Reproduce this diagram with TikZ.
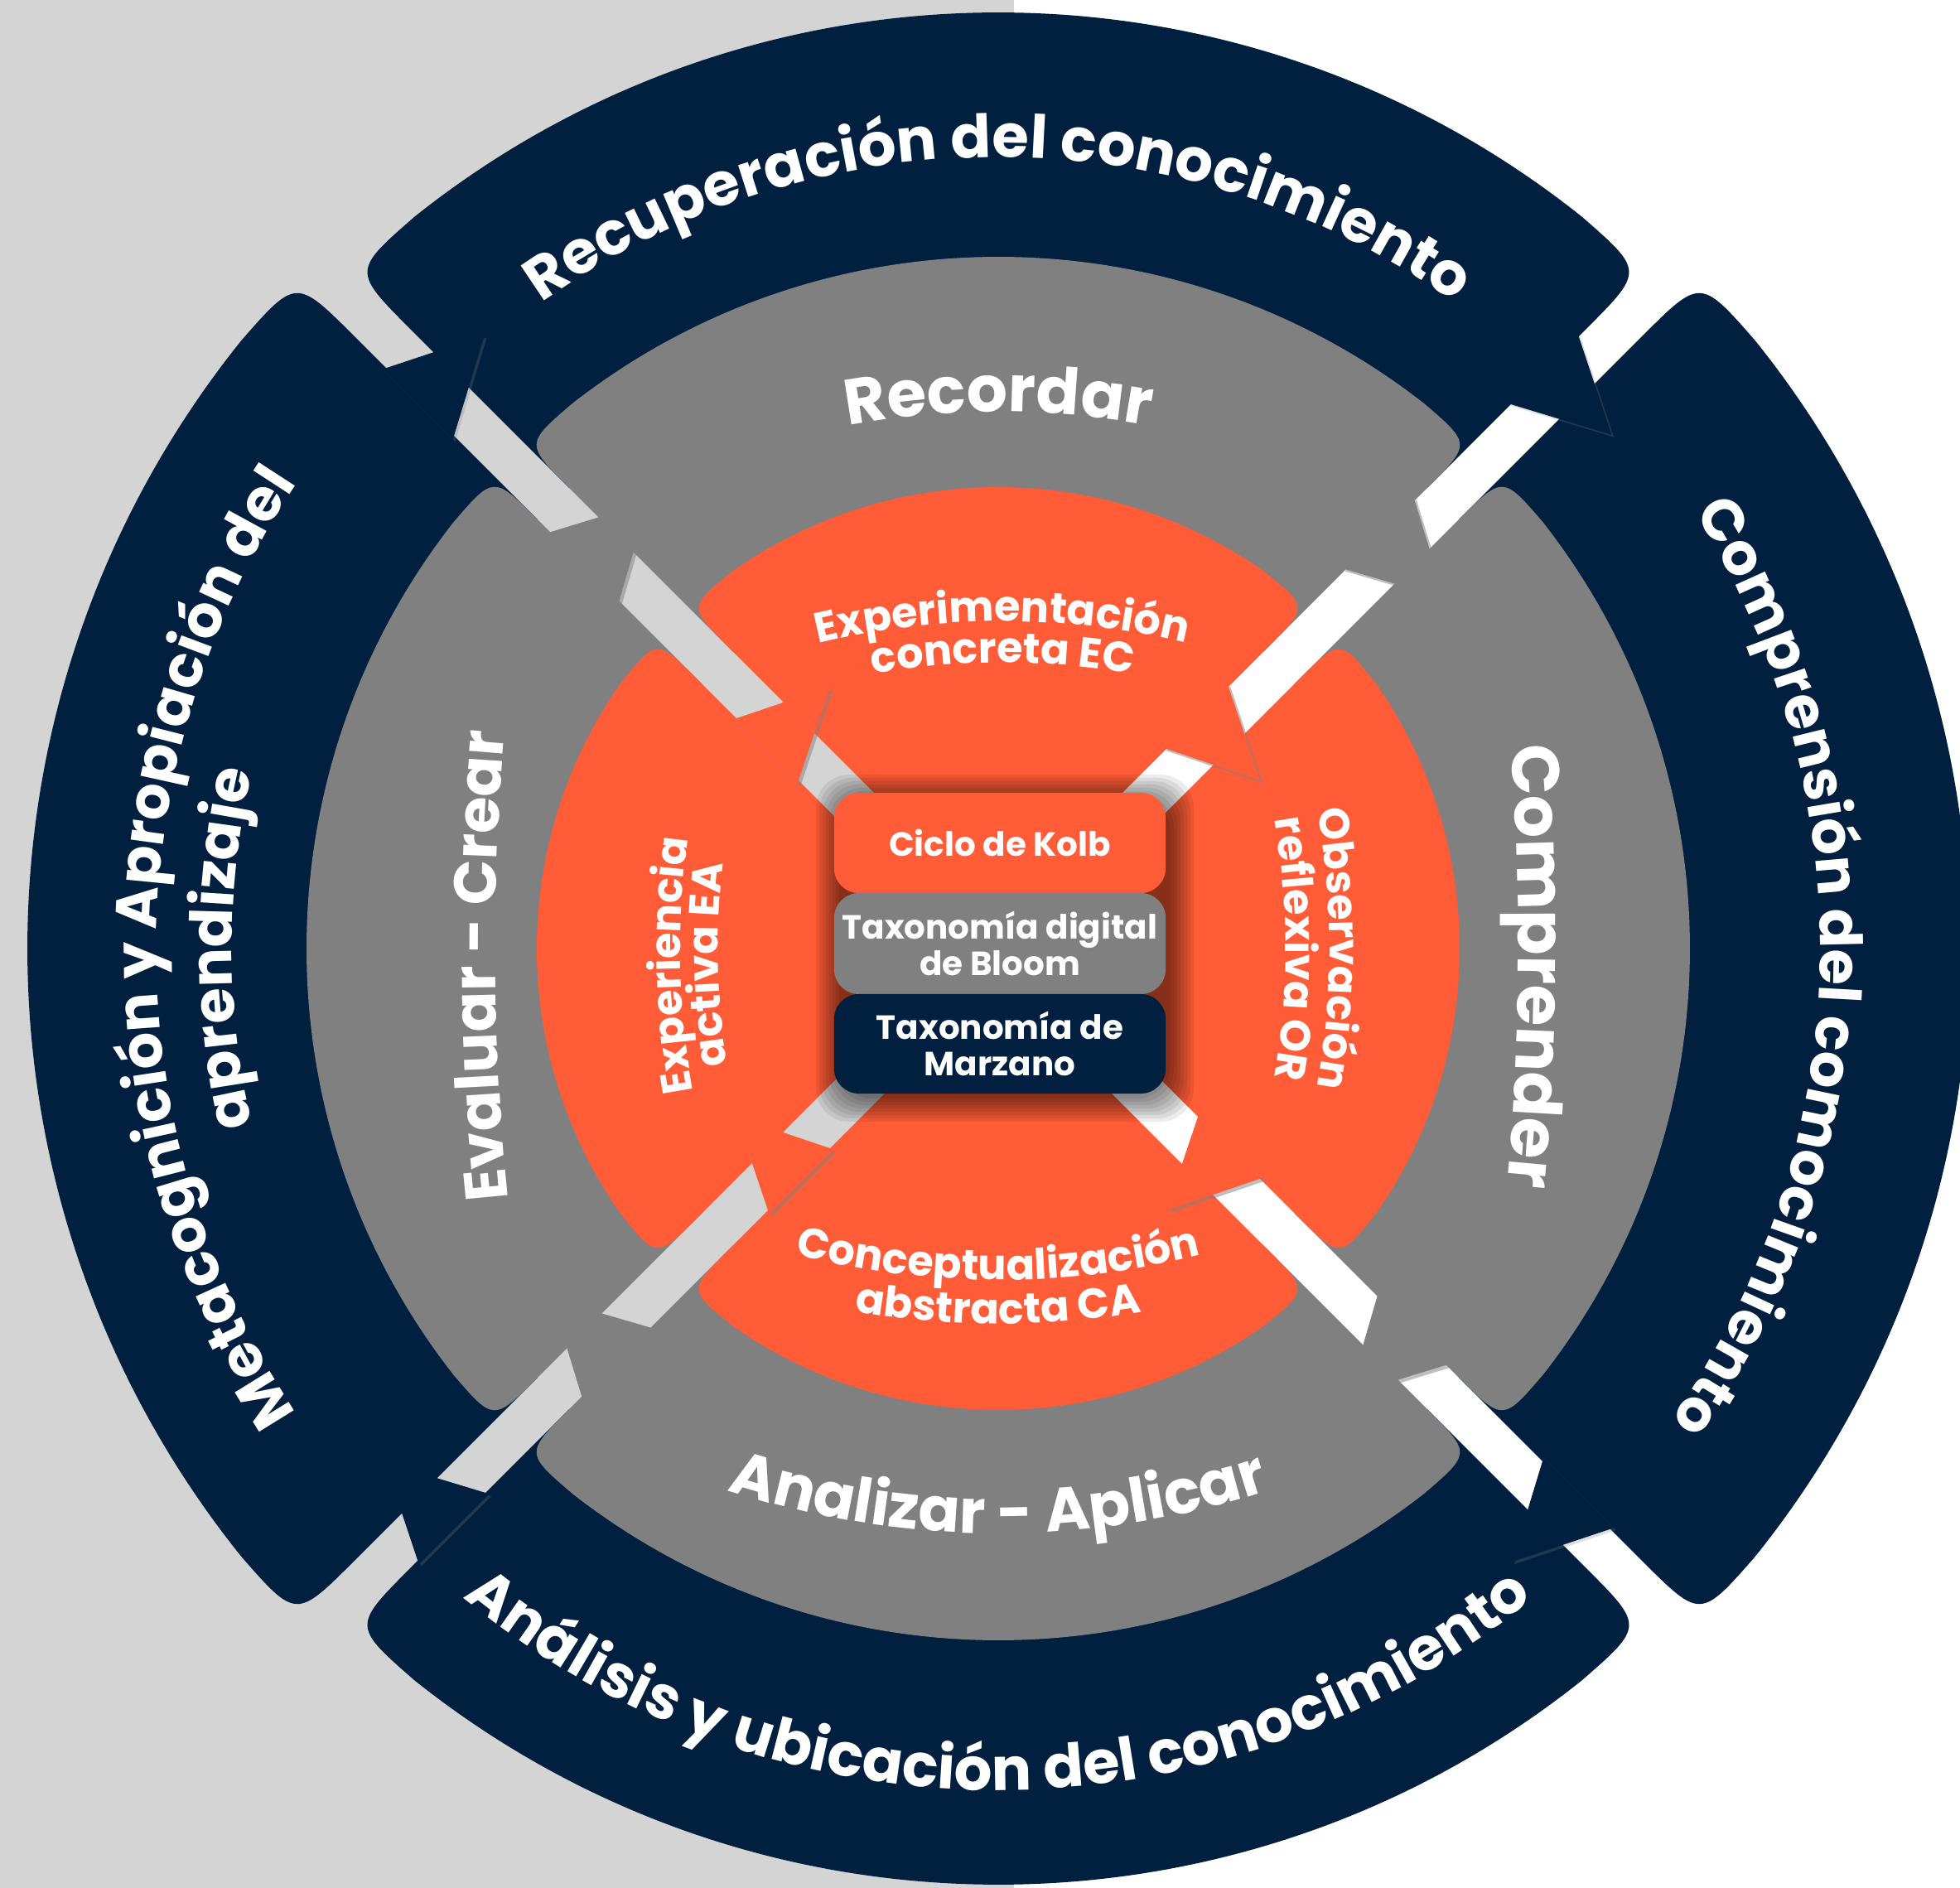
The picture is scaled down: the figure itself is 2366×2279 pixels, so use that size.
\documentclass[tikz,border=0pt]{standalone}
\usepackage{fontspec}
\setmainfont{Poppins}
\usetikzlibrary{calc,decorations.text,shadows}
\definecolor{navy}{RGB}{1,31,63}
\definecolor{midgray}{RGB}{128,128,128}
\definecolor{orng}{RGB}{255,92,55}
\definecolor{bglight}{RGB}{212,212,212}

\newcommand\segw{27}
\newcommand\fOut{\fontsize{20.5}{24}\selectfont\bfseries}
\newcommand\fOutS{\fontsize{20}{24}\selectfont\bfseries}
\newcommand\fMidA{\fontsize{22}{26}\selectfont\bfseries}
\newcommand\fMidB{\fontsize{23}{27}\selectfont\bfseries}
\newcommand\fMidC{\fontsize{21}{25}\selectfont\bfseries}
\newcommand\fMidD{\fontsize{20.5}{24}\selectfont\bfseries}
\newcommand\fIn{\fontsize{14.5}{16}\selectfont\bfseries}
\newcommand\fBox{\fontsize{11.5}{12.4}\selectfont\bfseries}

% body of one curved arrow: #1 fill, #2 tail angle, #3 inner r, #4 outer r, #5 corner size
\newcommand\segbody[5]{%
  \pgfmathsetmacro\sgAt{#2}%
  \pgfmathsetmacro\sgAh{#2-90}%
  \pgfmathsetmacro\sgDo{asin(\segw/#4)}%
  \pgfmathsetmacro\sgUo{#4*cos(\sgDo)}%
  \pgfmathsetmacro\sgUc{\sgUo-#5}%
  \pgfmathsetmacro\sgDc{#5/#4*57.2958}%
  \pgfmathsetmacro\sgDi{asin(\segw/#3)}%
  \pgfmathsetmacro\sgUi{#3*cos(\sgDi)}%
  \pgfmathsetmacro\sgAa{\sgAt-\sgDo-\sgDc}%
  \pgfmathsetmacro\sgAb{\sgAh+\sgDo+\sgDc}%
  \pgfmathsetmacro\sgAc{\sgAh+\sgDi}%
  \pgfmathsetmacro\sgAd{\sgAt-\sgDi}%
  \fill[#1] ($(\sgAt:\sgUi)+(\sgAh:\segw)$) -- ($(\sgAt:\sgUc)+(\sgAh:\segw)$)
    .. controls ($(\sgAt:\sgUo)+(\sgAh:\segw)$) .. (\sgAa:#4)
    arc[start angle=\sgAa, end angle=\sgAb, radius=#4]
    .. controls ($(\sgAh:\sgUo)+(\sgAt:\segw)$) .. ($(\sgAh:\sgUc)+(\sgAt:\segw)$)
    -- ($(\sgAh:\sgUi)+(\sgAt:\segw)$)
    arc[start angle=\sgAc, end angle=\sgAd, radius=#3] -- cycle;
}
% head of one curved arrow: #1 style, #2 tail angle, #3 base in, #4 base out, #5 tip u, #6 tip offset
\newcommand\seghead[6]{%
  \pgfmathsetmacro\sgAt{#2}%
  \pgfmathsetmacro\sgAh{#2-90}%
  \pgfmathsetmacro\sgAn{#2-180}%
  \pgfmathsetmacro\sgWp{\segw+4}%
  \fill[#1] ($(\sgAh:#3)+(\sgAt:\sgWp)$) -- ($(\sgAh:#4)+(\sgAt:\sgWp)$)
    -- ($(\sgAh:#5)+(\sgAn:#6)$) -- cycle;
}
% text along an arc: #1 font, #2 text, #3 centre, #4 radius, #5 start, #6 end
\newcommand\arctext[6]{%
  \path[decorate,decoration={text along path,text={|#1|#2},text align=center,text color=white}]
    ($#3+(#5:#4)$) arc[start angle=#5,end angle=#6,radius=#4];
}

\tikzset{
  navyhead/.style={fill=navy, drop shadow={opacity=0.25,shadow xshift=0.8pt,shadow yshift=-0.8pt}},
  grayhead/.style={fill=midgray, drop shadow={opacity=0.5,shadow xshift=1pt,shadow yshift=-1pt}},
  orhead/.style={fill=orng, drop shadow={opacity=0.5,shadow xshift=1pt,shadow yshift=-1pt}},
  box/.style={rounded corners=0.3cm, minimum width=4cm, text=white, align=center, font=\fBox, inner sep=0pt}
}

\begin{document}
\begin{tikzpicture}[x=0.01cm,y=0.01cm]
\useasboundingbox (-1205,-1134) rectangle (1161,1145);
\fill[bglight] (-1205,-1134) rectangle (19,1145);
\fill[white] (19,-1134) rectangle (1161,1145);

% outer navy ring
\segbody{navy}{135}{760}{1130}{100}
\segbody{navy}{45}{760}{1172}{100}
\segbody{navy}{-45}{760}{1130}{100}
\segbody{navy}{225}{760}{1172}{100}
\seghead{navyhead}{135}{900}{1020}{962}{85}
\seghead{navyhead}{45}{900}{1020}{962}{85}
\seghead{navyhead}{-45}{900}{1020}{962}{85}
\seghead{navyhead}{225}{900}{1020}{962}{85}

% middle gray ring
\segbody{midgray}{135}{480}{835}{75}
\segbody{midgray}{45}{480}{835}{75}
\segbody{midgray}{-45}{480}{835}{75}
\segbody{midgray}{225}{480}{835}{75}
\seghead{grayhead}{135}{618}{740}{680}{82}
\seghead{grayhead}{45}{618}{740}{680}{82}
\seghead{grayhead}{-45}{618}{740}{680}{82}
\seghead{grayhead}{225}{618}{740}{680}{82}

% inner orange ring
\segbody{orng}{135}{60}{557}{70}
\segbody{orng}{45}{60}{557}{70}
\segbody{orng}{-45}{60}{557}{70}
\segbody{orng}{225}{60}{557}{70}
\seghead{orhead}{135}{312}{422}{367}{80}
\seghead{orhead}{45}{312}{422}{367}{80}
\seghead{orhead}{-45}{312}{422}{367}{80}
\seghead{orhead}{225}{312}{422}{367}{80}

% soft shadow of the central boxes
\foreach \k in {0,...,7}
  \fill[black,opacity=0.075,rounded corners=0.4cm] ({-198-4*\k+6},{-175-4*\k-6}) rectangle ({202+4*\k+6},{188+4*\k-6});

\node[box, fill=orng, minimum height=1.21cm] (kolb) at (2,127.5) {Ciclo de Kolb};
\node[box, fill=midgray, minimum height=1.22cm] (bloom) at (2,6) {Taxonomía digital\\de Bloom};
\node[box, fill=navy, minimum height=1.20cm] (marzano) at (2,-115) {Taxonomía de\\Marzano};

% outer texts
\arctext{\fOut}{Recuperación del conocimiento}{(0,0)}{955}{170}{10}
\arctext{\fOut}{Análisis y ubicación del conocimiento}{(0,0)}{1016}{190}{350}
\arctext{\fOutS}{Comprensión del comocimiento}{(0,0)}{992}{78.5}{-81.5}
\arctext{\fOutS}{Metacognición y Apropiación del}{(0,0)}{1016}{260}{100}
\arctext{\fOutS}{aprendizaje}{(0,0)}{925}{230}{130}

% middle texts
\arctext{\fMidA}{Recordar}{(0,-352)}{1000}{105}{75}
\arctext{\fMidB}{Comprender}{(-2372,0)}{3000}{6}{-6.8}
\arctext{\fMidC}{Analizar - Aplicar}{(0,344)}{1050}{245}{295}
\arctext{\fMidD}{Evaluar - Crear}{(2393,0)}{3000}{186.8}{174}

% inner texts
\arctext{\fIn}{Experimentación}{(5,-555)}{950}{110}{70}
\arctext{\fIn}{concreta EC}{(5,-555)}{900}{110}{70}
\arctext{\fIn}{Observación}{(-550,0)}{950}{20}{-20}
\arctext{\fIn}{reflexiva OR}{(-550,0)}{897}{20}{-20}
\arctext{\fIn}{Conceptualización}{(0,600)}{1000}{245}{295}
\arctext{\fIn}{abstracta CA}{(0,600)}{1053}{245}{295}
\arctext{\fIn}{Experiencia}{(566,0)}{950}{201.2}{161.2}
\arctext{\fIn}{activa EA}{(566,0)}{904}{201.2}{161.2}
\end{tikzpicture}
\end{document}
